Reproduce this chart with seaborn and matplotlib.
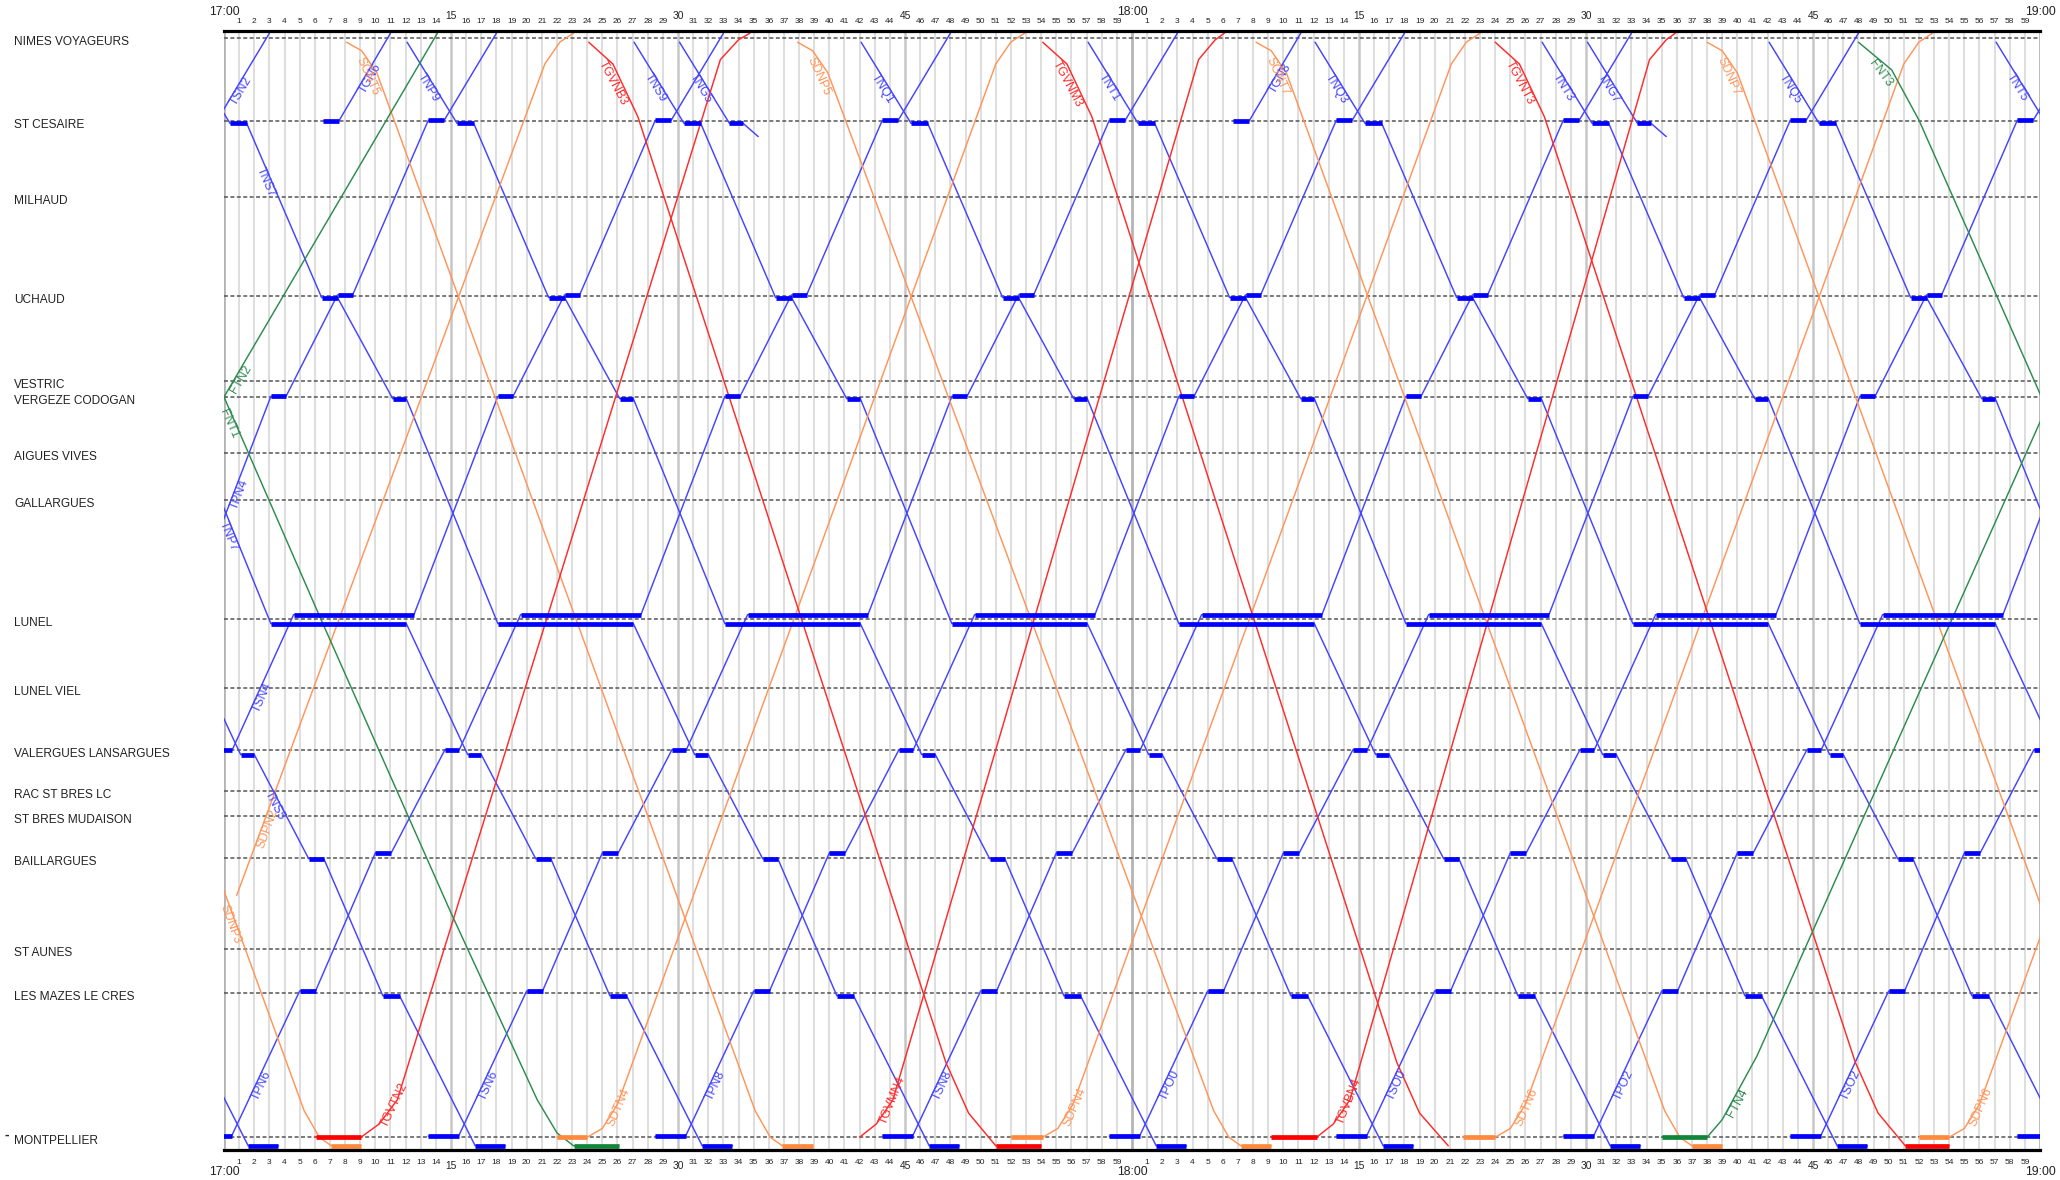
import numpy as np
import pandas as pd
import matplotlib
matplotlib.use('Agg')
from matplotlib import pyplot as plt
from matplotlib import font_manager
import seaborn as sns

# stations, distance from Nimes (km)
STATIONS = ['NIMES VOYAGEURS', 'ST CESAIRE', 'MILHAUD', 'UCHAUD', 'VESTRIC', 'VERGEZE CODOGAN',
            'AIGUES VIVES', 'GALLARGUES', 'LUNEL', 'LUNEL VIEL', 'VALERGUES LANSARGUES',
            'RAC ST BRES LC', 'ST BRES MUDAISON', 'BAILLARGUES', 'ST AUNES', 'LES MAZES LE CRES',
            'MONTPELLIER']
STATION_KM = [0.0, 3.78, 7.23, 11.76, 15.61, 16.34, 18.88, 21.04, 26.44, 29.56, 32.38,
              34.24, 35.38, 37.30, 41.44, 43.46, 50.0]

# TER stopping pattern, minutes after departure / track position (km)
SB_T = [0.0, 3.3, 4.4, 9.35, 10.4, 14.05, 14.95, 21.0, 29.95, 34.0, 34.9, 38.5, 39.5,
        43.4, 44.5, 49.5, 51.5]
SB_KM = [0.21, 3.90, 3.90, 11.82, 11.82, 16.42, 16.42, 26.65, 26.65, 32.60, 32.60, 37.34,
         37.34, 43.57, 43.57, 50.39, 50.39]
NB_T = [-2.0, 0.0, 4.5, 5.55, 9.5, 10.55, 14.1, 15.05, 19.1, 27.05, 32.6, 33.6, 37.0, 38.0,
        43.0, 44.05, 47.5]
NB_KM = [49.95, 49.95, 43.35, 43.35, 37.07, 37.07, 32.38, 32.38, 26.24, 26.24, 16.31, 16.31,
         11.70, 11.70, 3.76, 3.76, -0.2]

# TER departures (minutes after 17:00)
SB_NAMES = ['', 'TNS5', 'TNP7', 'TNS7', 'TNP9', 'TNS9', 'TNQ1', 'TNT1', 'TNQ3', 'TNT3', 'TNQ5', 'TNT5']
SB_START = [-47.9, -32.9, -17.9, -2.9, 12.1, 27.1, 42.1, 57.1, 72.1, 87.1, 102.1, 117.1]
NB_NAMES = ['TSN2', 'TPN4', 'TSN4', 'TPN6', 'TSN6', 'TPN8', 'TSN8', 'TPO0', 'TSO0', 'TPO2', 'TSO2', '']
NB_START = [-44.5, -29.5, -14.5, 0.5, 15.5, 30.5, 45.5, 60.5, 75.5, 90.5, 105.5, 120.5]

# Grau-du-Roi branch trains
TGN_NAMES = ['TGN6', 'TGN8']
TGN_START = [6.55, 66.7]
TGN_T = [0.0, 1.05, 4.45]
TGN_KM = [3.78, 3.78, -0.2]
TNG_NAMES = ['TNG5', 'TNG7']
TNG_START = [30.1, 90.1]
TNG_T = [0.0, 3.3, 4.2, 5.2]
TNG_KM = [0.21, 3.90, 3.90, 4.5]

# TGV
RED_NAMES = ['TGVTN2', 'TGVNB3', 'TGVMN4', 'TGVNM3', 'TGVBN4', 'TGVNT3']
RED_T = [[6.05, 9.05, 10.25, 11.45, 32.8, 34.0, 34.75],
         [24.1, 25.7, 27.35, 47.7, 49.2, 51.0, 54.0],
         [42.0, 43.1, 44.2, 64.4, 65.5, 66.1],
         [54.1, 55.7, 57.35, 77.5, 79.0, 80.9],
         [69.2, 72.2, 73.3, 74.4, 94.2, 95.3, 95.9],
         [84.0, 85.6, 87.25, 107.8, 109.3, 111.1, 114.0]]
RED_KM = [[50.0, 50.0, 49.4, 48.3, 1.0, 0.1, -0.2],
          [0.21, 1.2, 3.6, 46.6, 48.9, 50.39, 50.39],
          [50.0, 49.4, 48.3, 1.0, 0.1, -0.2],
          [0.21, 1.2, 3.6, 46.6, 48.9, 50.39],
          [50.0, 50.0, 49.4, 48.3, 1.0, 0.1, -0.2],
          [0.21, 1.2, 3.6, 46.6, 48.9, 50.39, 50.39]]

# SD trains
ORANGE_NAMES = ['SDNP3', 'SDPN2', 'SGNT5', 'SDTN4', 'SDNP5', 'SDPN4', 'SGNT7', 'SDTN6', 'SDNP7', 'SDPN6']
ORANGE_T = [[-21.7, -20.7, -19.7, 5.3, 6.3, 7.1, 9.05],
            [0.84, 21.2, 22.2, 23.1],
            [8.1, 9.1, 10.1, 35.1, 36.1, 36.9, 38.9],
            [22.0, 24.0, 25.0, 26.0, 51.0, 52.0, 52.9],
            [37.9, 38.9, 39.9, 65.4, 66.4, 67.2, 69.2],
            [52.0, 54.1, 55.1, 56.1, 81.1, 82.1, 83.0],
            [68.2, 69.2, 70.2, 95.2, 96.2, 97.0, 99.0],
            [81.9, 84.0, 85.0, 86.0, 111.0, 112.0, 112.9],
            [98.0, 99.0, 100.0, 125.0, 126.0, 126.8],
            [112.0, 114.0, 115.0, 116.0, 141.0, 142.0, 142.9]]
ORANGE_KM = [[0.21, 0.6, 1.6, 48.8, 50.0, 50.39, 50.39],
             [39.0, 1.2, 0.2, -0.2],
             [0.21, 0.6, 1.6, 48.8, 50.0, 50.39, 50.39],
             [50.0, 50.0, 49.6, 48.5, 1.2, 0.2, -0.2],
             [0.21, 0.6, 1.6, 48.8, 50.0, 50.39, 50.39],
             [50.0, 50.0, 49.6, 48.5, 1.2, 0.2, -0.2],
             [0.21, 0.6, 1.6, 48.8, 50.0, 50.39, 50.39],
             [50.0, 50.0, 49.6, 48.5, 1.2, 0.2, -0.2],
             [0.21, 0.6, 1.6, 48.8, 50.0, 50.39],
             [50.0, 50.0, 49.6, 48.5, 1.2, 0.2, -0.2]]

# freight
GREEN_NAMES = ['FTN2', 'FNT1', 'FNT3', 'FTN4']
GREEN_T = [[0.0, 14.1],
           [0.0, 6.4, 15.0, 20.7, 22.0, 23.1, 26.1],
           [108.0, 110.2, 112.0, 122.0],
           [95.0, 98.0, 99.0, 101.3, 122.0]]
GREEN_KM = [[16.34, -0.2],
            [16.34, 26.44, 39.8, 48.3, 49.8, 50.39, 50.39],
            [0.21, 1.47, 3.75, 19.3],
            [50.0, 50.0, 49.2, 46.3, 14.4]]

LINE_COL = {'blue': '#4444ff', 'orange': '#ff9559', 'red': '#ff2a2a', 'green': '#2e8b50'}
BAR_COL = {'blue': '#0000ff', 'orange': '#ff8a3d', 'red': '#ff0000', 'green': '#11853a'}

# assemble trains
trains = []
for n, d in zip(SB_NAMES, SB_START):
    trains.append((n, 'blue', [d + x for x in SB_T], SB_KM))
for n, d in zip(NB_NAMES, NB_START):
    trains.append((n, 'blue', [d + x for x in NB_T], NB_KM))
for n, d in zip(TGN_NAMES, TGN_START):
    trains.append((n, 'blue', [d + x for x in TGN_T], TGN_KM))
for n, d in zip(TNG_NAMES, TNG_START):
    trains.append((n, 'blue', [d + x for x in TNG_T], TNG_KM))
for n, t, k in zip(ORANGE_NAMES, ORANGE_T, ORANGE_KM):
    trains.append((n, 'orange', t, k))
for n, t, k in zip(RED_NAMES, RED_T, RED_KM):
    trains.append((n, 'red', t, k))
for n, t, k in zip(GREEN_NAMES, GREEN_T, GREEN_KM):
    trains.append((n, 'green', t, k))

rows, bars = [], []
for uid, (n, kind, t, k) in enumerate(trains):
    for ti, ki in zip(t, k):
        rows.append({'train': uid, 'kind': kind, 't': ti, 'km': ki})
    for i in range(len(t) - 1):
        if k[i] == k[i + 1] and t[i + 1] > t[i]:
            bars.append((kind, k[i], t[i], t[i + 1]))
df = pd.DataFrame(rows)

# fonts
sns.set_theme(style='white')
avail = {f.name for f in font_manager.fontManager.ttflist}
narrow = 'Liberation Sans Narrow' in avail
FONT = 'Liberation Sans Narrow' if narrow else 'Liberation Sans'
plt.rcParams['font.family'] = [FONT, 'DejaVu Sans']
fs_station = 10.4 if narrow else 8.6
fs_min = 6.8 if narrow else 6.0
fs_quarter = 8.4 if narrow else 7.4
fs_hour = 10.0 if narrow else 8.8
fs_train = 10.2 if narrow else 8.8

fig = plt.figure(figsize=(20.6, 11.8), dpi=100)
ax = fig.add_axes([224 / 2060, 1 - 1150 / 1180, 1816 / 2060, 1119 / 1180])

# minute grid
for m in range(0, 121):
    if m % 60 == 0:
        ax.axvline(m, color='#b4b4b4', lw=2.0, zorder=0)
    elif m % 15 == 0:
        ax.axvline(m, color='#c6c6c6', lw=1.8, zorder=0)
    else:
        ax.axvline(m, color='#dedede', lw=1.4, zorder=0)

for km in STATION_KM:
    ax.axhline(km, color='#555555', lw=1.1, ls=(0, (2.6, 1.6)), zorder=1)

sns.lineplot(data=df, x='t', y='km', hue='kind', units='train', estimator=None, sort=False,
             hue_order=['blue', 'orange', 'red', 'green'], palette=LINE_COL,
             lw=1.05, legend=False, ax=ax, zorder=3)

for kind, km, t0, t1 in bars:
    ax.hlines(km, t0, t1, colors=BAR_COL[kind], lw=3.4, zorder=4, capstyle='butt')

ax.set_xlim(0, 120)
ax.set_ylim(50.58, -0.30)
ax.set_xlabel('')
ax.set_ylabel('')
ax.set_xticks([])
ax.set_yticks([])
for s in ['left', 'right']:
    ax.spines[s].set_visible(False)
for s in ['top', 'bottom']:
    ax.spines[s].set_color('black')
    ax.spines[s].set_linewidth(2.3)
    ax.spines[s].set_zorder(6)

# station names
ytr = ax.get_yaxis_transform()
for name, km in zip(STATIONS, STATION_KM):
    ax.text(-0.1154, km + 0.18, name, transform=ytr, ha='left', va='center',
            fontsize=fs_station, color='#222222')

# time labels top and bottom
xtr = ax.get_xaxis_transform()
for m in range(0, 121):
    if m % 60 == 0:
        lab = '%d:00' % (17 + m // 60)
        ax.text(m, 1.0170, lab, transform=xtr, ha='center', va='center', fontsize=fs_hour, color='#222222')
        ax.text(m, -0.0200, lab, transform=xtr, ha='center', va='center', fontsize=fs_hour, color='#222222')
    elif m % 15 == 0:
        lab = str(m % 60)
        ax.text(m, 1.0135, lab, transform=xtr, ha='center', va='center', fontsize=fs_quarter, color='#222222')
        ax.text(m, -0.0145, lab, transform=xtr, ha='center', va='center', fontsize=fs_quarter, color='#222222')
    else:
        lab = str(m % 60)
        ax.text(m, 1.0082, lab, transform=xtr, ha='center', va='center', fontsize=fs_min, color='#222222')
        ax.text(m, -0.0115, lab, transform=xtr, ha='center', va='center', fontsize=fs_min, color='#222222')

fig.text(6.6 / 2060, 1 - 1135 / 1180, '-', fontsize=10, fontweight='bold', ha='center', va='center')


# train labels along the first visible run
def label_anchor(t, k):
    i, n = 0, len(t)
    while i < n - 1:
        if k[i] == k[i + 1]:
            i += 1
            continue
        j = i
        while j < n - 1 and k[j] != k[j + 1]:
            j += 1
        vis = min(t[j], 120) - max(t[i], 0)
        if vis >= 1.5:
            ta = max(t[i], 0) + (0.3 if t[i] < 0.5 else 1.2)
            return ta, min(ta + 2.0, t[j])
        i = j
    return None


for n, kind, t, k in trains:
    if not n:
        continue
    res = label_anchor(t, k)
    if res is None:
        continue
    ta, tb = res
    if ta > 118.5:
        continue
    ka = np.interp(ta, t, k)
    kb = np.interp(tb, t, k)
    p0 = ax.transData.transform((ta, ka))
    p1 = ax.transData.transform((tb, kb))
    ang = np.degrees(np.arctan2(p1[1] - p0[1], p1[0] - p0[0]))
    ax.text(ta, ka, n, rotation=ang, rotation_mode='anchor', ha='left', va='top',
            fontsize=fs_train, color=LINE_COL[kind], zorder=5)

fig.savefig('out.png', dpi=100)
